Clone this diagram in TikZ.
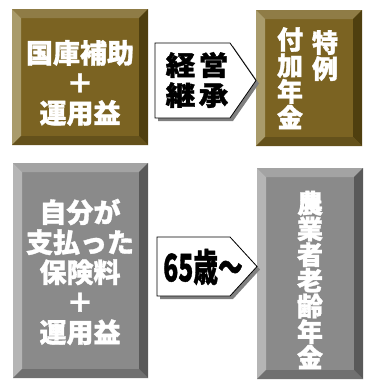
\documentclass[tikz,border=0pt]{standalone}
\usepackage{fontspec}
\newfontfamily\jpfont{Noto Sans CJK JP}[BoldFeatures={FakeBold=1.2}]
\usetikzlibrary{positioning,calc}
\usepackage{xcolor}

\definecolor{brface}{HTML}{7B6322}
\definecolor{brtop}{HTML}{8F7C46}
\definecolor{brleft}{HTML}{A99B6B}
\definecolor{brright}{HTML}{4F3F0F}
\definecolor{brbot}{HTML}{64511B}
\definecolor{grface}{HTML}{8A8A8A}
\definecolor{grtop}{HTML}{A3A3A3}
\definecolor{grleft}{HTML}{B5B5B5}
\definecolor{grright}{HTML}{595959}
\definecolor{grbot}{HTML}{707070}
\definecolor{shadowgray}{HTML}{808080}

% bevelled box: x1, y1, x2, y2, colour prefix
\newcommand{\bevbox}[5]{%
  \fill[#5face] (#1,#2) rectangle (#3,#4);
  \fill[#5top] (#1,#2) -- (#3,#2) -- (#3-9,#2+9) -- (#1+9,#2+9) -- cycle;
  \fill[#5left] (#1,#2) -- (#1+9,#2+9) -- (#1+9,#4-9) -- (#1,#4) -- cycle;
  \fill[#5right] (#3,#2) -- (#3,#4) -- (#3-9,#4-9) -- (#3-9,#2+9) -- cycle;
  \fill[#5bot] (#1,#4) -- (#1+9,#4-9) -- (#3-9,#4-9) -- (#3,#4) -- cycle;
}
% pointer outline: left, top, tip start, tip, bottom
\newcommand{\pointerpath}[5]{(#1,#2) -- (#3,#2) -- (#4,{(#2+#5)/2}) -- (#3,#5) -- (#1,#5) -- cycle}

\begin{document}
\begin{tikzpicture}[
      x=1pt, y=-1pt,
      boxtext/.style={text=white, align=center, inner sep=0pt, font=\jpfont\bfseries\fontsize{27}{30}\selectfont},
      vtext/.style={text=white, align=center, inner sep=0pt, font=\jpfont\bfseries\fontsize{26}{26}\selectfont},
      pointtext/.style={text=black, align=center, inner sep=0pt, font=\jpfont\bfseries\fontsize{27}{30}\selectfont},
      pointer/.style={fill=white, draw=black, line width=0.8pt},
      pshadow/.style={fill=shadowgray}
  ]
      \useasboundingbox (0,0) rectangle (382,383);

      % Boxes
      \bevbox{12}{9}{148}{145}{br}
      \bevbox{256}{10}{362}{146}{br}
      \bevbox{13}{163}{148}{378}{gr}
      \bevbox{257}{168}{363}{379}{gr}

      % Pointers with shadows
      \fill[pshadow, shift={(3,3)}] \pointerpath{155}{43}{230}{256}{118};
      \draw[pointer] \pointerpath{155}{43}{230}{256}{118};
      \fill[pshadow, shift={(3,3)}] \pointerpath{157}{237}{230}{257}{296};
      \draw[pointer] \pointerpath{157}{237}{230}{257}{296};

      % Texts
      \node (kokko) [boxtext] at (80,83) {国庫補助\\＋\\運用益};
      \node (fuka) [vtext, anchor=north] at (290,27) {付\\加\\年\\金};
      \node (tokurei) [vtext, anchor=north] at (325,30) {特\\例};
      \node (keiei) [pointtext] at (197,80) {\scalebox{1.1}[1]{経\hspace{3pt}営}\\\scalebox{1.1}[1]{継\hspace{3pt}承}};

      \node (jibun) [boxtext] at (80,272) {自分が\\支払った\\保険料\\＋\\運用益};
      \node (rourei) [vtext, font=\jpfont\bfseries\fontsize{26}{25.7}\selectfont] at (310,280) {農\\業\\者\\老\\齢\\年\\金};
      \node (sai) [pointtext, font=\jpfont\bfseries\fontsize{38}{38}\selectfont] at (203,267) {\scalebox{0.65}[1]{65歳～}};
\end{tikzpicture}
\end{document}
